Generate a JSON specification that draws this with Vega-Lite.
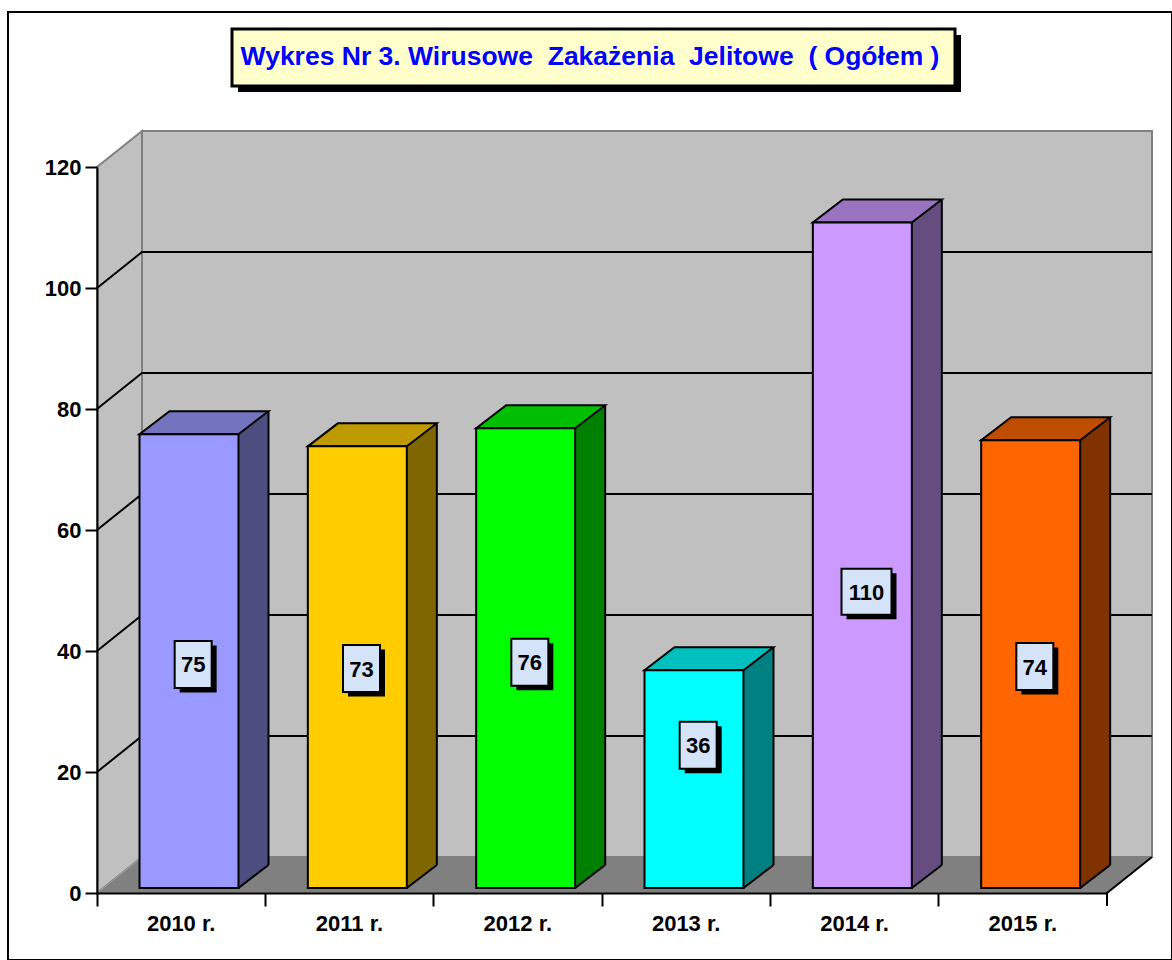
{
  "$schema": "https://vega.github.io/schema/vega-lite/v6.json",
  "width": 1164,
  "height": 948,
  "autosize": "none",
  "padding": {"left": 8, "top": 12, "right": 0, "bottom": 0},
  "background": "white",
  "title": {
    "text": "Wykres Nr 3. Wirusowe \u00a0Zakażenia \u00a0Jelitowe \u00a0( Ogółem )",
    "anchor": "middle",
    "frame": "group",
    "offset": -71,
    "baseline": "middle",
    "font": "Liberation Sans",
    "fontSize": 26.5,
    "fontWeight": "bold",
    "color": "#0000FF"
  },
  "datasets": {
    "bars": [
      {"year": "2010 r.", "value": 75},
      {"year": "2011 r.", "value": 73},
      {"year": "2012 r.", "value": 76},
      {"year": "2013 r.", "value": 36},
      {"year": "2014 r.", "value": 110},
      {"year": "2015 r.", "value": 74}
    ],
    "grid": [{"v": 20}, {"v": 40}, {"v": 60}, {"v": 80}, {"v": 100}],
    "one": [{}]
  },
  "layer": [
    {
      "layer": [
        {
          "data": {"name": "one"},
          "mark": {"type": "point", "shape": "M45,-36 L1055,-36 L1055,-762 L45,-762 Z", "size": 4, "filled": true, "fill": "#C0C0C0", "stroke": "#808080", "strokeWidth": 2, "opacity": 1},
          "encoding": {
            "x": {
              "datum": "2010 r.", "type": "nominal", "bandPosition": 0,
              "scale": {"domain": ["2010 r.", "2011 r.", "2012 r.", "2013 r.", "2014 r.", "2015 r."], "range": [89, 1099], "paddingInner": 0, "paddingOuter": 0},
              "axis": {"orient": "bottom", "offset": -67, "bandPosition": 0, "title": null, "labelAngle": 0, "domainColor": "#000000", "domainWidth": 2, "tickColor": "#000000", "tickWidth": 2, "tickSize": 13, "labelFont": "Liberation Sans", "labelFontWeight": "bold", "labelFontSize": 22, "labelColor": "#000000", "labelPadding": 7, "grid": false, "zindex": 1}
            },
            "y": {
              "datum": 0, "type": "quantitative",
              "scale": {"domain": [0, 120], "range": [881, 155], "nice": false, "zero": true},
              "axis": {"orient": "left", "offset": -89, "title": null, "tickCount": 6, "grid": false, "domainColor": "#000000", "domainWidth": 2, "tickColor": "#000000", "tickWidth": 2, "tickSize": 12, "labelFont": "Liberation Sans", "labelFontWeight": "bold", "labelFontSize": 22, "labelColor": "#000000", "labelPadding": 4, "zindex": 1}
            }
          }
        },
        {
          "data": {"name": "one"},
          "mark": {"type": "point", "shape": "M0,0 L45,-36 L45,-762 L0,-726 Z", "size": 4, "filled": true, "fill": "#C0C0C0", "stroke": "#808080", "strokeWidth": 2, "opacity": 1},
          "encoding": {
            "x": {"datum": "2010 r.", "type": "nominal", "bandPosition": 0},
            "y": {"datum": 0, "type": "quantitative"}
          }
        },
        {
          "data": {"name": "grid"},
          "mark": {"type": "point", "shape": "M0,0 L45,-36 L1055,-36", "size": 4, "filled": false, "stroke": "#000000", "strokeWidth": 2, "opacity": 1},
          "encoding": {
            "x": {"datum": "2010 r.", "type": "nominal", "bandPosition": 0},
            "y": {"field": "v", "type": "quantitative"}
          }
        },
        {
          "data": {"name": "one"},
          "mark": {"type": "point", "shape": "M0,0 L1010,0 L1055,-36 L45,-36 Z", "size": 4, "filled": true, "fill": "#808080", "strokeWidth": 0, "opacity": 1},
          "encoding": {
            "x": {"datum": "2010 r.", "type": "nominal", "bandPosition": 0},
            "y": {"datum": 0, "type": "quantitative"}
          }
        },
        {
          "data": {"name": "one"},
          "mark": {"type": "point", "shape": "M0,0 L45,-36", "size": 4, "filled": false, "stroke": "#A8A8A8", "strokeWidth": 1, "opacity": 1},
          "encoding": {
            "x": {"datum": "2010 r.", "type": "nominal", "bandPosition": 0},
            "y": {"datum": 0, "type": "quantitative"}
          }
        },
        {
          "data": {"name": "one"},
          "mark": {"type": "point", "shape": "M1055,-36 L1010,0 L1010,13", "size": 4, "filled": false, "stroke": "#000000", "strokeWidth": 2, "opacity": 1},
          "encoding": {
            "x": {"datum": "2010 r.", "type": "nominal", "bandPosition": 0},
            "y": {"datum": 0, "type": "quantitative"}
          }
        },
        {
          "data": {"name": "one"},
          "mark": {"type": "point", "shape": "M-358,-138 L365,-138 L365,-81 L-358,-81 Z", "size": 4, "filled": true, "fill": "#000000", "strokeWidth": 0, "opacity": 1, "xOffset": 6, "yOffset": 6},
          "encoding": {
            "y": {"datum": 120, "type": "quantitative"}
          }
        },
        {
          "data": {"name": "one"},
          "mark": {"type": "point", "shape": "M-358,-138 L365,-138 L365,-81 L-358,-81 Z", "size": 4, "filled": true, "fill": "#FFFFCC", "stroke": "#000000", "strokeWidth": 3, "opacity": 1},
          "encoding": {
            "y": {"datum": 120, "type": "quantitative"}
          }
        },
        {
          "data": {"name": "bars"},
          "mark": {"type": "bar", "width": 30, "xOffset": 72.33, "yOffset": -28, "y2Offset": -28, "strokeWidth": 0},
          "encoding": {
            "x": {"field": "year", "type": "nominal"},
            "y": {"field": "value", "type": "quantitative"},
            "y2": {"datum": 0},
            "fill": {"field": "year", "type": "nominal", "legend": null, "scale": {"domain": ["2010 r.", "2011 r.", "2012 r.", "2013 r.", "2014 r.", "2015 r."], "range": ["#4D4D80", "#806600", "#008000", "#008080", "#664D80", "#803300"]}}
          }
        },
        {
          "data": {"name": "bars"},
          "mark": {"type": "point", "shape": "M57.33,-5 L57.33,-28 L87.33,-28 Z", "size": 4, "filled": true, "strokeWidth": 0, "opacity": 1},
          "encoding": {
            "x": {"field": "year", "type": "nominal"},
            "y": {"datum": 0, "type": "quantitative"},
            "fill": {"field": "year", "type": "nominal", "legend": null, "scale": {"domain": ["2010 r.", "2011 r.", "2012 r.", "2013 r.", "2014 r.", "2015 r."], "range": ["#4D4D80", "#806600", "#008000", "#008080", "#664D80", "#803300"]}}
          }
        },
        {
          "data": {"name": "bars"},
          "mark": {"type": "rule", "xOffset": 87.33, "yOffset": -28, "y2Offset": -28, "color": "#000000", "strokeWidth": 2},
          "encoding": {
            "x": {"field": "year", "type": "nominal"},
            "y": {"field": "value", "type": "quantitative"},
            "y2": {"datum": 0}
          }
        },
        {
          "data": {"name": "bars"},
          "mark": {"type": "point", "shape": "M57.33,-5 L87.33,-28", "size": 4, "filled": false, "stroke": "#000000", "strokeWidth": 2, "opacity": 1},
          "encoding": {
            "x": {"field": "year", "type": "nominal"},
            "y": {"datum": 0, "type": "quantitative"}
          }
        },
        {
          "data": {"name": "bars"},
          "mark": {"type": "point", "shape": "M-41.67,-5 L57.33,-5 L87.33,-28 L-11.67,-28 Z", "size": 4, "filled": true, "stroke": "#000000", "strokeWidth": 2, "opacity": 1},
          "encoding": {
            "x": {"field": "year", "type": "nominal"},
            "y": {"field": "value", "type": "quantitative"},
            "fill": {"field": "year", "type": "nominal", "legend": null, "scale": {"domain": ["2010 r.", "2011 r.", "2012 r.", "2013 r.", "2014 r.", "2015 r."], "range": ["#7373BF", "#BF9900", "#00BF00", "#00BFBF", "#9973BF", "#BF4D00"]}}
          }
        },
        {
          "data": {"name": "bars"},
          "mark": {"type": "bar", "width": {"band": 0.588}, "xOffset": 7.83, "yOffset": -5, "y2Offset": -5, "stroke": "#000000", "strokeWidth": 2},
          "encoding": {
            "x": {"field": "year", "type": "nominal"},
            "y": {"field": "value", "type": "quantitative"},
            "y2": {"datum": 0},
            "fill": {"field": "year", "type": "nominal", "legend": null, "scale": {"domain": ["2010 r.", "2011 r.", "2012 r.", "2013 r.", "2014 r.", "2015 r."], "range": ["#9999FF", "#FFCC00", "#00FF00", "#00FFFF", "#CC99FF", "#FF6600"]}}
          }
        }
      ],
      "resolve": {"scale": {"fill": "independent"}}
    },
    {
      "data": {"name": "bars"},
      "layer": [
        {
          "mark": {"type": "point", "size": 4, "filled": true, "fill": "#000000", "strokeWidth": 0, "opacity": 1, "xOffset": 17, "yOffset": -68.5},
          "encoding": {
            "x": {"field": "year", "type": "nominal"},
            "y": {"field": "value", "type": "quantitative", "scale": {"domain": [0, 350], "range": [881, 155], "nice": false, "zero": true}, "axis": null},
            "shape": {"condition": {"test": "datum.value >= 100", "value": "M-25,-23 L25,-23 L25,23 L-25,23 Z"}, "value": "M-18.5,-23.5 L18.5,-23.5 L18.5,23.5 L-18.5,23.5 Z"}
          }
        },
        {
          "mark": {"type": "point", "size": 4, "filled": true, "fill": "#D4E3F8", "stroke": "#000000", "strokeWidth": 2, "opacity": 1, "xOffset": 12, "yOffset": -73},
          "encoding": {
            "x": {"field": "year", "type": "nominal"},
            "y": {"field": "value", "type": "quantitative"},
            "shape": {"condition": {"test": "datum.value >= 100", "value": "M-25,-23 L25,-23 L25,23 L-25,23 Z"}, "value": "M-18.5,-23.5 L18.5,-23.5 L18.5,23.5 L-18.5,23.5 Z"}
          }
        },
        {
          "mark": {"type": "text", "font": "Liberation Sans", "fontWeight": "bold", "fontSize": 22, "color": "#000000", "align": "center", "baseline": "middle", "xOffset": 12, "yOffset": -72},
          "encoding": {
            "x": {"field": "year", "type": "nominal"},
            "y": {"field": "value", "type": "quantitative"},
            "text": {"field": "value", "type": "quantitative"}
          }
        }
      ]
    }
  ],
  "resolve": {"scale": {"y": "independent"}},
  "config": {
    "view": {"stroke": "#000000", "strokeWidth": 2},
    "font": "Liberation Sans"
  }
}
